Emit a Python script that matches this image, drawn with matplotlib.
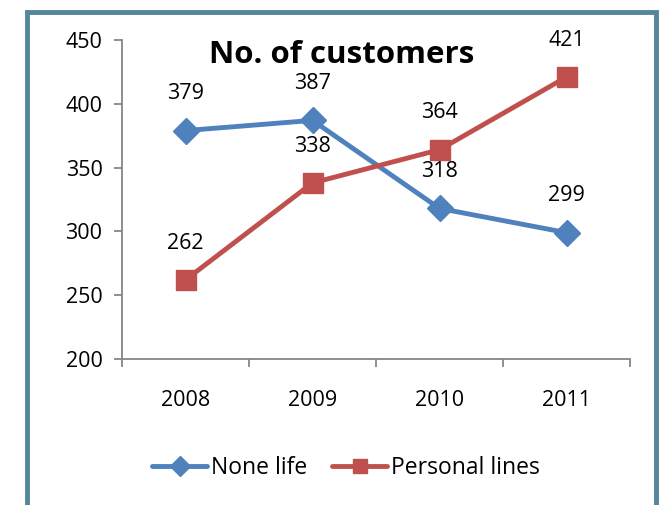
import matplotlib.pyplot as plt
from matplotlib.lines import Line2D

years = ["2008", "2009", "2010", "2011"]
none_life = [379, 387, 318, 299]
personal_lines = [262, 338, 364, 421]

plt.rcParams['font.family'] = ['Open Sans', 'DejaVu Sans']

fig = plt.figure(figsize=(6.6, 5.05), dpi=100)
W, H = 660, 505

# outer chart frame
frame = Line2D([27 / W, 27 / W, 656 / W, 656 / W],
               [0, 1 - 12 / H, 1 - 12 / H, 0],
               transform=fig.transFigure, color='#55869A', lw=3.5,
               solid_joinstyle='miter')
fig.add_artist(frame)

ax = fig.add_axes([122 / W, 1 - 359 / H, (630 - 122) / W, (359 - 40) / H])
x = range(len(years))

blue = '#4F81BD'
red = '#C0504D'
ax.plot(x, none_life, color=blue, lw=3.5, marker='D', markersize=13,
        label='None life', solid_capstyle='round')
ax.plot(x, personal_lines, color=red, lw=3.5, marker='s', markersize=14,
        label='Personal lines', solid_capstyle='round')

for xi, v in zip(x, none_life):
    ax.annotate(str(v), (xi, v), xytext=(0, 26.5), textcoords='offset points',
                ha='center', va='center', fontsize=15.5)
for xi, v in zip(x, personal_lines):
    ax.annotate(str(v), (xi, v), xytext=(0, 26.5), textcoords='offset points',
                ha='center', va='center', fontsize=15.5)

ax.set_xlim(-0.5, 3.5)
ax.set_ylim(200, 450)
ax.set_yticks(range(200, 451, 50))
ax.set_xticks(list(x))
ax.set_xticklabels(years)
ax.set_xticks([-0.5, 0.5, 1.5, 2.5, 3.5], minor=True)
ax.tick_params(axis='x', which='major', length=0, pad=22, labelsize=15.5)
ax.tick_params(axis='x', which='minor', length=6, color='#868686', width=1.3)
ax.tick_params(axis='y', length=6, color='#868686', width=1.3, pad=8, labelsize=15.5)

for side in ['top', 'right']:
    ax.spines[side].set_visible(False)
for side in ['left', 'bottom']:
    ax.spines[side].set_color('#868686')
    ax.spines[side].set_linewidth(1.3)

fig.text(342 / W, 1 - 55 / H, 'No. of customers', ha='center', va='center',
         fontsize=22.5, fontweight='bold')

fig.legend(loc='center', bbox_to_anchor=(346 / W, 1 - 468 / H), ncol=2,
           frameon=False, fontsize=16.5, handlelength=2.4, columnspacing=1.1,
           handletextpad=0.15, markerscale=0.75)

fig.savefig('out.png', dpi=100)
